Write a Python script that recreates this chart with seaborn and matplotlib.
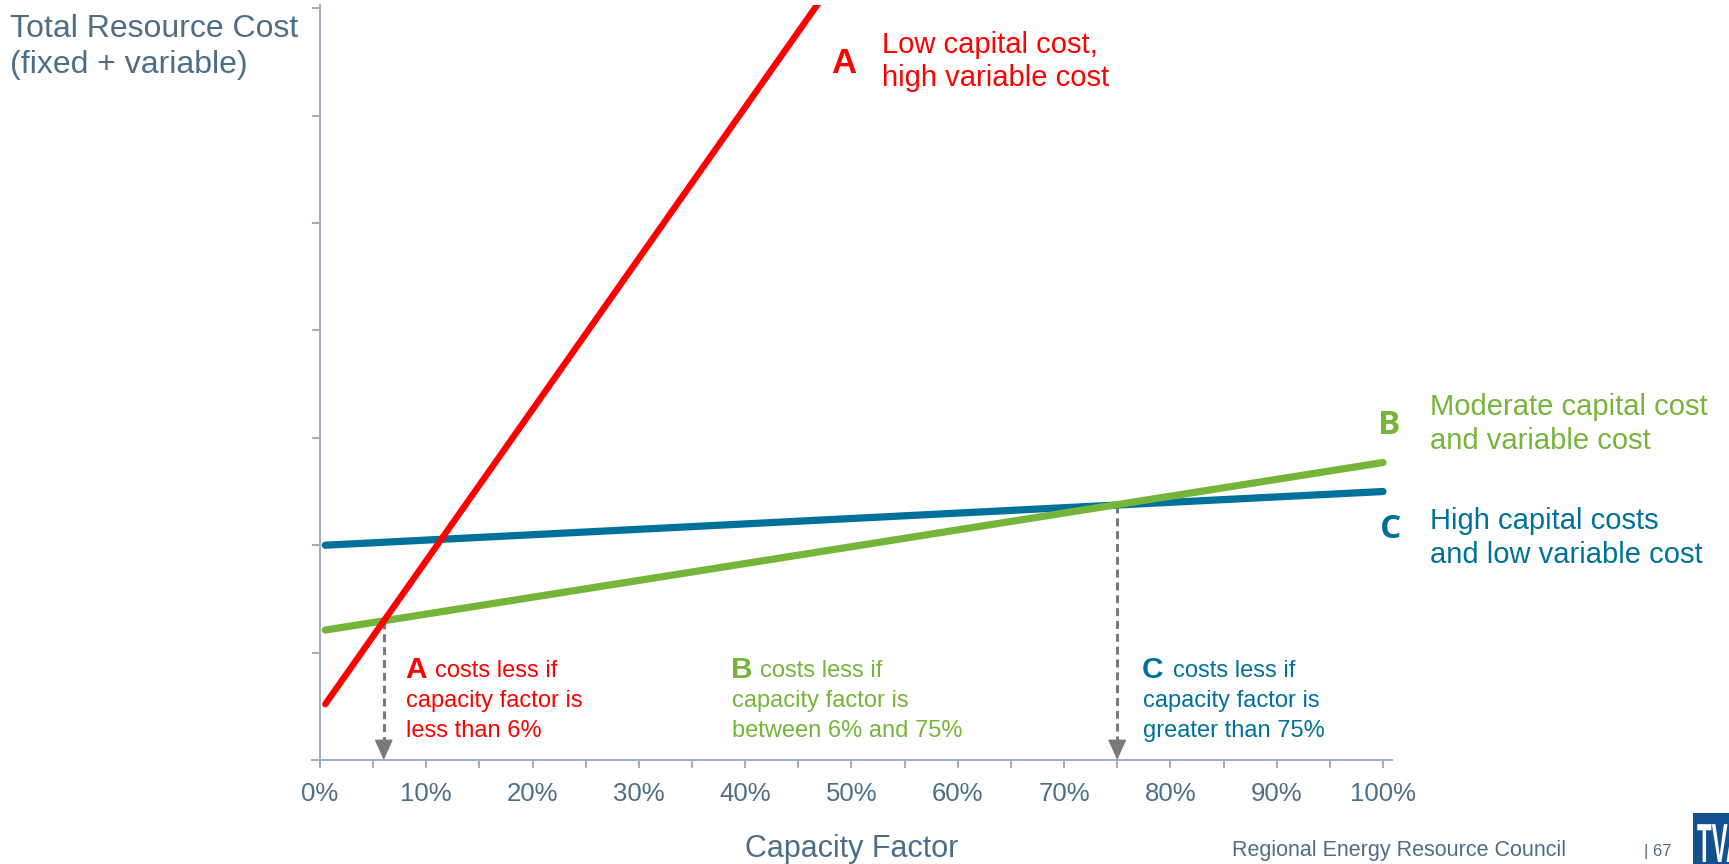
import numpy as np
import pandas as pd
import matplotlib
matplotlib.use("Agg")
import matplotlib.pyplot as plt
import seaborn as sns
from matplotlib import font_manager
from matplotlib.font_manager import FontProperties
from matplotlib.patches import PathPatch, Rectangle
from matplotlib.textpath import TextPath
from matplotlib.transforms import Affine2D

# ---- data -----------------------------------------------------------------
resources = ["A", "B", "C"]
capacity_factor = [0.005, 1.0]          # line end points (share of hours)
cost_A = [0.52, 14.52]                  # low capital, high variable cost
cost_B = [1.21, 2.77]                   # moderate capital and variable cost
cost_C = [2.00, 2.50]                   # high capital, low variable cost
crossover_cf = [0.06, 0.75]             # A/B and B/C break-even points
xtick_pct = [0, 10, 20, 30, 40, 50, 60, 70, 80, 90, 100]
xminor_pct = [5, 15, 25, 35, 45, 55, 65, 75, 85, 95]
ytick_vals = [0, 1, 2, 3, 4, 5, 6, 7]

# ---- colours ---------------------------------------------------------------
RED = "#ff0000"
GREEN = "#74b53a"
BLUE = "#00719a"
SLATE = "#4e6e88"
AXIS = "#a3b0bd"
ARROW = "#7a7a7a"
palette = {"A": RED, "B": GREEN, "C": BLUE}

sns.set_theme(style="white")
plt.rcParams["font.family"] = ["Liberation Sans", "DejaVu Sans"]

W, H = 1729, 864
fig = plt.figure(figsize=(W / 100, H / 100), dpi=100)
fig.patch.set_facecolor("white")
ax = fig.add_axes([0.18045, 0.11227, 0.62464, 0.88194])

costs = {"A": cost_A, "B": cost_B, "C": cost_C}
df = pd.DataFrame(
    [(r, x, y) for r in resources for x, y in zip(capacity_factor, costs[r])],
    columns=["resource", "capacity_factor", "cost"],
)

sns.lineplot(
    data=df, x="capacity_factor", y="cost", hue="resource",
    hue_order=["C", "B", "A"], palette=palette, linewidth=5.2,
    solid_capstyle="round", legend=False, errorbar=None, sort=False, ax=ax,
)
for line in ax.lines:
    if line.get_color() == RED:
        line.set_linewidth(4.6)

# dashed drop lines from the break-even points down to the axis
for cf in crossover_cf:
    top = np.interp(cf, capacity_factor, cost_B)
    ax.plot([cf, cf], [top, 0.17], color=ARROW, lw=2.2,
            linestyle=(0, (2.6, 1.6)), zorder=1)
    ax.annotate("", xy=(cf, 0), xytext=(cf, 0.17),
                arrowprops=dict(arrowstyle="-|>,head_length=1.0,head_width=0.45",
                                color=ARROW, lw=1.0, mutation_scale=13,
                                shrinkA=0, shrinkB=0), zorder=1)

# ---- axes styling ------------------------------------------------------------
ax.set_xlim(-0.0075, 1.0085)
ax.set_ylim(-0.065, 7.03)
for side in ("top", "right"):
    ax.spines[side].set_visible(False)
for side in ("left", "bottom"):
    ax.spines[side].set_position(("data", 0))
    ax.spines[side].set_color(AXIS)
    ax.spines[side].set_linewidth(1.5)

ax.set_xticks([p / 100 for p in xtick_pct])
ax.set_xticklabels([f"{p}%" for p in xtick_pct])
ax.set_xticks([p / 100 for p in xminor_pct], minor=True)
ax.set_yticks(ytick_vals)
ax.tick_params(axis="both", which="both", direction="out", length=5.8,
               width=1.5, color=AXIS, bottom=True, left=True,
               labelleft=False)
ax.tick_params(axis="x", which="major", labelsize=18.5, labelcolor=SLATE, pad=10)
ax.set_xlabel("Capacity Factor", fontsize=22, color=SLATE, va="baseline")
ax.xaxis.set_label_coords(0.5, -0.1181)
ax.set_ylabel("")
ax.grid(False)


def put(x, y, s, **kw):
    """Place text at pixel position (x from left, y baseline from top)."""
    kw.setdefault("ha", "left")
    return fig.text(x / W, 1 - y / H, s, va="baseline", **kw)


# y-axis title
put(10, 37, "Total Resource Cost", fontsize=23, color=SLATE)
put(10, 73, "(fixed + variable)", fontsize=23, color=SLATE)

# series captions
put(831, 73, "A", fontsize=25, fontweight="bold", color=RED)
put(882, 53, "Low capital cost,", fontsize=21, color=RED)
put(882, 86, "high variable cost", fontsize=21, color=RED)

put(1378, 434, "B", fontsize=24, fontweight="bold", color=GREEN,
    family=["Open Sans", "DejaVu Sans"])
put(1430, 415, "Moderate capital cost", fontsize=21, color=GREEN)
put(1430, 449, "and variable cost", fontsize=21, color=GREEN)

put(1380, 538, "C", fontsize=24, fontweight="bold", color=BLUE,
    family=["Open Sans", "DejaVu Sans"])
put(1430, 529, "High capital costs", fontsize=21, color=BLUE)
put(1430, 563, "and low variable cost", fontsize=21, color=BLUE)

# region notes under the lines
notes = [
    ("A", RED, 405, 435, ["capacity factor is", "less than 6%"]),
    ("B", GREEN, 731, 760, ["capacity factor is", "between 6% and 75%"]),
    ("C", BLUE, 1142, 1173, ["capacity factor is", "greater than 75%"]),
]
for letter, col, x0, x1, rest in notes:
    put(x0, 678, letter, fontsize=21.5, fontweight="bold", color=col)
    put(x1, 677, "costs less if", fontsize=17, color=col)
    put(x0 + 1, 707, rest[0], fontsize=17, color=col)
    put(x0 + 1, 737, rest[1], fontsize=17, color=col)

# footer
names = {f.name for f in font_manager.fontManager.ttflist}
narrow = "Liberation Sans Narrow" in names
footer_family = ["Liberation Sans Narrow" if narrow else "Liberation Sans", "DejaVu Sans"]
put(1232, 856, "Regional Energy Resource Council", fontsize=17.5 if narrow else 15.5,
    color=SLATE, family=footer_family)
put(1644, 856, "| 67", fontsize=14 if narrow else 12, color=SLATE, family=footer_family)

# corner logo
to_fig = Affine2D().scale(1 / W, 1 / H) + fig.transFigure
fig.add_artist(Rectangle((1693, 0), 36, 51, transform=to_fig,
                         facecolor="#12508f", edgecolor="none"))
tp = TextPath((0, 0), "TVA", size=1,
              prop=FontProperties(family="Liberation Sans", weight="bold"))
fig.add_artist(PathPatch(tp, transform=Affine2D().scale(24, 55).translate(1697, 2) + to_fig,
                         facecolor="white", edgecolor="none"))

fig.savefig("out.png", dpi=100, facecolor="white")
